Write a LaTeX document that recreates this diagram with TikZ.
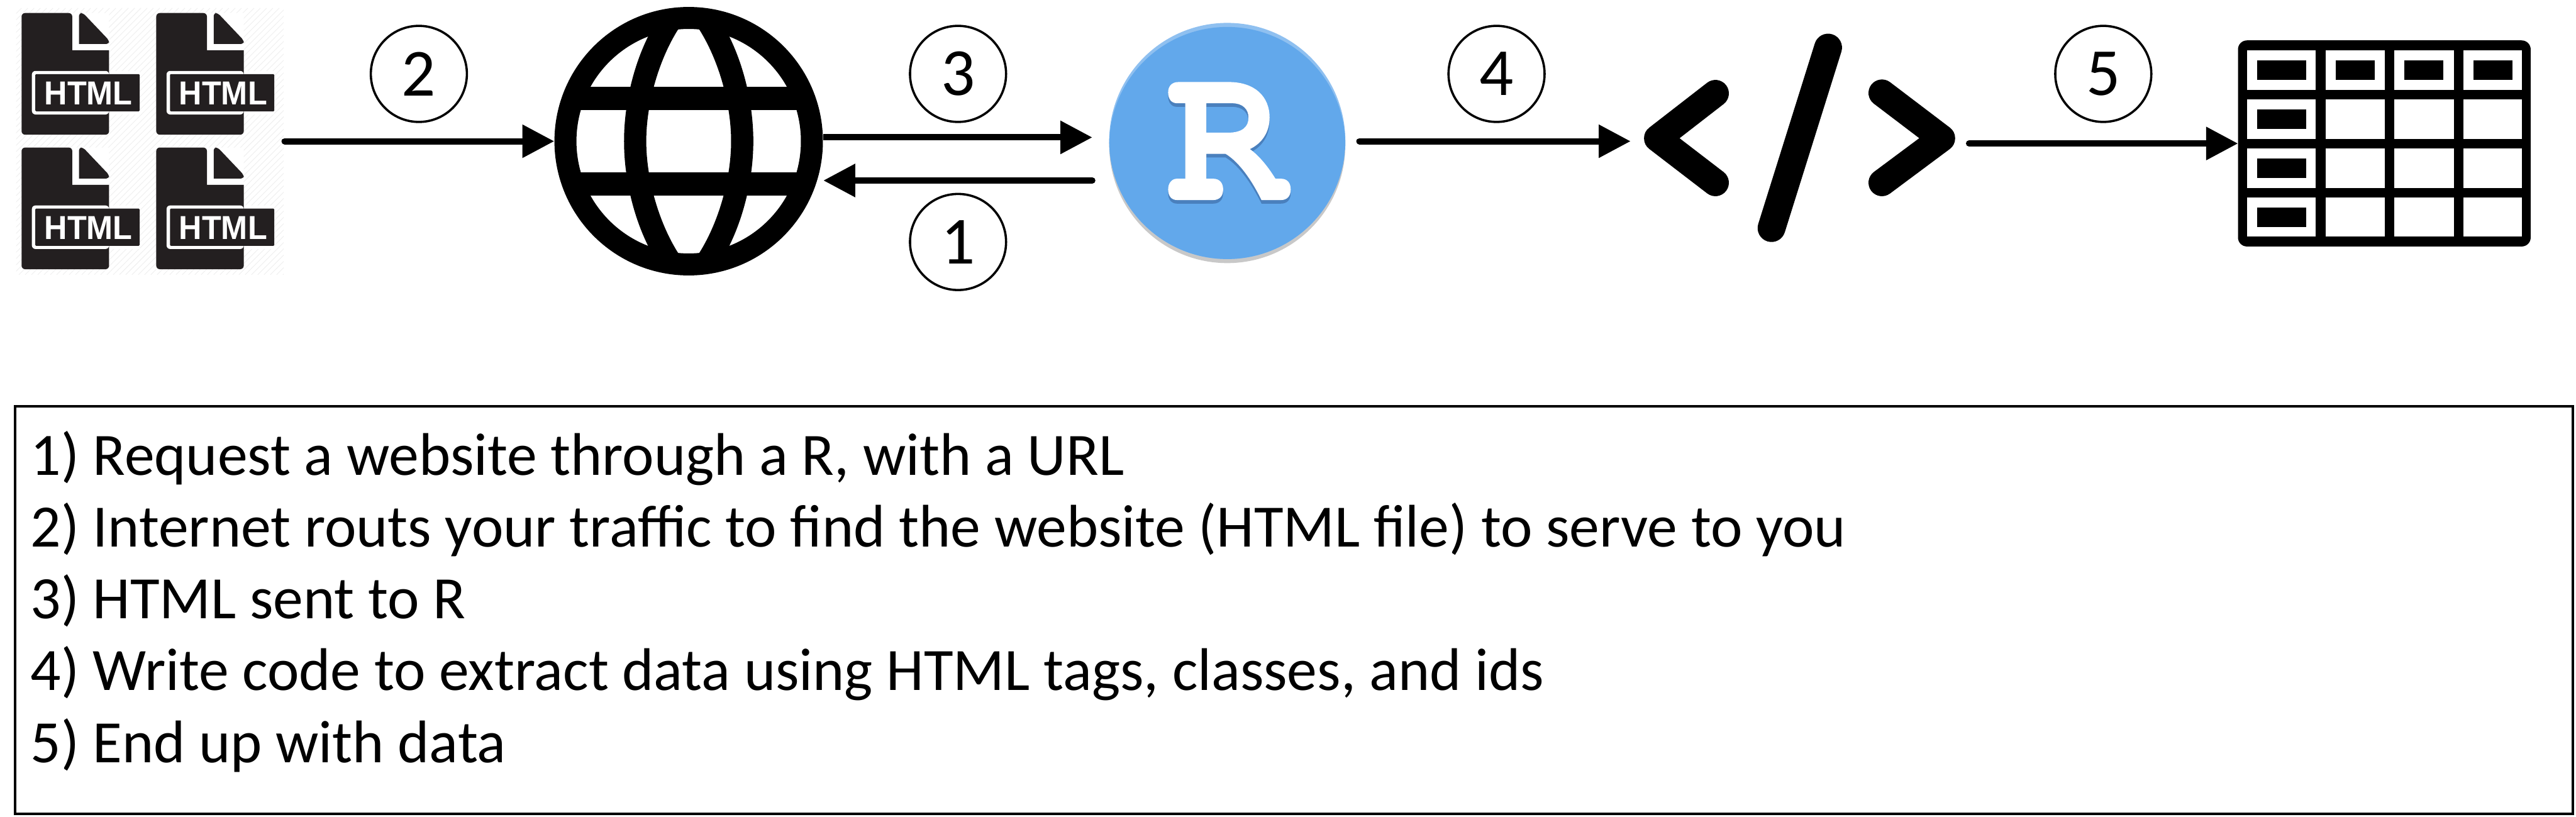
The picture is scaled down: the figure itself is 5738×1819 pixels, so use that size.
\documentclass[tikz,border=0pt]{standalone}
\usepackage{fontspec}
\setmainfont{Carlito}
\newfontfamily\labelfont{Liberation Sans}[Scale=1]
\usetikzlibrary{arrows.meta}
\definecolor{docblack}{HTML}{231F20}
\definecolor{rblue}{HTML}{62A8EB}
\definecolor{rlight}{HTML}{8FC0F0}
\definecolor{rshade}{HTML}{4A80BD}
\definecolor{rgrey}{HTML}{C8C8C8}
\definecolor{hatch}{HTML}{F0F0F0}
\tikzset{
  x=1pt,y=-1pt,
  slot/.style={inner sep=0pt,outer sep=0pt,minimum width=#1},
  flow/.style={line width=14pt,line cap=round,-{Triangle[length=71pt,width=71pt]}},
  numcircle/.style={circle,draw,line width=5pt,minimum size=214pt,inner sep=0pt,font=\fontsize{150}{150}\selectfont},
  steptext/.style={anchor=base west,inner sep=0pt,font=\fontsize{134}{160}\selectfont},
  pics/docicon/.style={code={
    \fill[white] (48,29) rectangle (243,300) (71,158) rectangle (311,255);
    \fill[docblack,rounded corners=8pt] (48,100)--(48,29)--(161,29)[sharp corners]--(161,112)--(243,112)[rounded corners=8pt]--(243,300)--(48,300)--cycle;
    \fill[docblack,rounded corners=6pt] (176,60)--(176,29)--(185,29)--(243,90)--(243,98)[sharp corners]--(176,98)--cycle;
    \fill[white,rounded corners=8pt] (71,158) rectangle (243,255);
    \fill[docblack,rounded corners=2pt] (78.6,165) rectangle (311,248);
    \node[anchor=base,inner sep=0pt,text=white,xscale=.955,transform shape,font=\labelfont\bfseries\fontsize{74}{74}\selectfont] (-lab) at (197,233) {HTML};
  }}
}
\newcommand{\Rglyph}[1]{%
  \fill[#1,even odd rule]
    (2625,182.7) -- (2737,182.7)
    .. controls (2795,182.7) and (2828,215) .. (2828,262)
    .. controls (2828,295) and (2810,320) .. (2784,332)
    .. controls (2805,347) and (2825,372) .. (2841,398)
    -- (2853,398)
    .. controls (2868,398) and (2875,408) .. (2875,422)
    .. controls (2875,437) and (2867,445.6) .. (2853,445.6)
    -- (2810,445.6)
    .. controls (2790,405) and (2762,362) .. (2730,342.7)
    -- (2687,342.7) -- (2687,398) -- (2702,398)
    .. controls (2717,398) and (2724.5,408) .. (2724.5,422)
    .. controls (2724.5,437) and (2716,445.6) .. (2702,445.6)
    -- (2622,445.6)
    .. controls (2609,445.6) and (2602,436) .. (2602,422)
    .. controls (2602,408) and (2610,398) .. (2622,398)
    -- (2640,398) -- (2640,230) -- (2622,230)
    .. controls (2609,230) and (2602,220) .. (2602,206)
    .. controls (2602,192) and (2610,182.7) .. (2625,182.7) -- cycle
    (2687,230) -- (2745,230)
    .. controls (2768,230) and (2781,243) .. (2781,262)
    .. controls (2781,282) and (2768,295.5) .. (2735,295.5)
    -- (2687,295.5) -- cycle;
}
\begin{document}
\begin{tikzpicture}
\useasboundingbox (0,0) rectangle (5738,1819);
% html file icons
\begin{scope}
  \clip (36,18) rectangle (632,612);
  \foreach \h in {-560,-546,...,630} \draw[hatch,line width=1.5pt] (\h,612) -- ++(594,-594);
\end{scope}
\pic (d1) at (0,0) {docicon};
\pic (d2) at (300,0) {docicon};
\pic (d3) at (0,299.6) {docicon};
\pic (d4) at (300,299.6) {docicon};
% globe
\fill[even odd rule]
  (1474,30) .. controls (1424,100) and (1390,210) .. (1390,314.5)
  .. controls (1390,419) and (1424,529) .. (1474,599) -- (1594,599)
  .. controls (1644,529) and (1678,419) .. (1678,314.5)
  .. controls (1678,210) and (1644,100) .. (1594,30) -- cycle
  (1514,60) .. controls (1468,130) and (1439.5,230) .. (1439.5,314.5)
  .. controls (1439.5,399) and (1468,499) .. (1514,569) -- (1554,569)
  .. controls (1600,499) and (1628.5,399) .. (1628.5,314.5)
  .. controls (1628.5,230) and (1600,130) .. (1554,60) -- cycle;
\begin{scope}
  \clip (1534,314.5) circle [radius=290];
  \fill (1200,194) rectangle (1880,245);
  \fill (1200,384) rectangle (1880,435);
\end{scope}
\draw[line width=49pt] (1534,314.5) circle [radius=274.5];
% R logo
\fill[rgrey] (2733.7,323) circle [radius=263];
\fill[rlight] (2733.7,314) circle [radius=263];
\begin{scope}
  \clip (2733.7,314) circle [radius=263];
  \fill[rblue] (2733.7,323) circle [radius=263];
\end{scope}
\Rglyph{rshade,shift={(0,8)}}
\Rglyph{white}
% code icon
\draw[line width=60pt,line cap=round,line join=round] (3821,208) -- (3692,308) -- (3821,407);
\draw[line width=60pt,line cap=round,line join=round] (4192,207) -- (4325,308) -- (4192,407);
\draw[line width=62pt,line cap=round] (4072,106) -- (3946,508);
% table icon
\fill[rounded corners=20pt] (4985,90) rectangle (5637,549);
\foreach \ya/\yb in {112.5/200,221.7/309.4,331/418.6,440/527}
  \foreach \xa/\xb in {5005/5158,5181/5312,5333/5466,5486.5/5617}
    \fill[white] (\xa,\ya) rectangle (\xb,\yb);
\foreach \ya/\yb in {134/178,243.4/287,353/396.4,462/505.6}
  \fill (5027,\ya) rectangle (5137,\yb);
\foreach \xa/\xb in {5203/5289,5355.5/5443,5509/5596}
  \fill (\xa,134) rectangle (\xb,178);
% anchors of the connectors
\node[slot=591pt,minimum height=594pt] (html) at (331.5,314.6) {};
\node[slot=600pt,minimum height=596pt] (globe) at (1534.5,314.6) {};
\node[slot=576pt,minimum height=526pt] (rlogo) at (2733,314.6) {};
\node[slot=652pt,minimum height=459pt] (tbl) at (5311,319.6) {};
\coordinate (g3) at (1834,306);
\coordinate (r3) at (2433,306);
\coordinate (r1) at (2433,402);
\coordinate (g1) at (1834,402);
\coordinate (c4) at (3632,314.6);
\coordinate (c5) at (4386,319.6);
% connectors
\draw[flow] ([xshift=7pt]html.east) -- (globe.west);
\draw[flow,line cap=butt] (g3) -- (r3);
\draw[flow] (r1) -- (g1);
\draw[flow] ([xshift=7pt]rlogo.east) -- (c4);
\draw[flow] (c5) -- (tbl.west);
% numbers
\node[numcircle] (n2) at (933,164.6) {2};
\node[numcircle] (n3) at (2134,164.6) {3};
\node[numcircle] (n1) at (2134,539) {1};
\node[numcircle] (n4) at (3333.5,164.6) {4};
\node[numcircle] (n5) at (4685,164.6) {5};
% explanation box
\draw[line width=6pt] (34,905) rectangle (5731,1813);
\node[steptext] (s1) at (68,1058) {1) Request a website through a R, with a URL};
\node[steptext] (s2) at (68,1218) {2) Internet routs your traffic to find the website (HTML file) to serve to you};
\node[steptext] (s3) at (68,1378) {3) HTML sent to R};
\node[steptext] (s4) at (68,1538) {4) Write code to extract data using HTML tags, classes, and ids};
\node[steptext] (s5) at (68,1698) {5) End up with data};
\end{tikzpicture}
\end{document}
